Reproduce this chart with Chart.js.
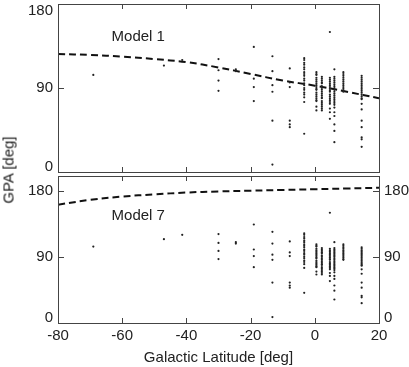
<!DOCTYPE html>
<html>
<head>
<meta charset="utf-8">
<script src="https://cdn.jsdelivr.net/npm/chart.js@4.4.1/dist/chart.umd.min.js"></script>
<style>
  body { margin: 0; background: #fff; }
  #wrap { position: relative; width: 409px; height: 367px; font-family: "Liberation Sans", Arial, sans-serif; }
  #topBox { position: absolute; left: 0; top: 0; }
  #bottomBox { position: absolute; left: 0; top: 172px; }
  #ytitle { position: absolute; left: 8px; top: 170px; transform: translate(-50%, -50%) rotate(-90deg);
            font-size: 15px; color: #222; white-space: nowrap; }
</style>
</head>
<body>
<div id="wrap">
  <div id="topBox"><canvas id="topChart" width="409" height="180"></canvas></div>
  <div id="bottomBox"><canvas id="bottomChart" width="409" height="195"></canvas></div>
  <div id="ytitle">GPA [deg]</div>
</div>
<script>
// observed polarization angles, grouped by galactic latitude column
const columnLat = [-69, -47, -41.3, -30, -24.6, -19, -13.2, -7.8, -3.3, 0.5, 2.2, 4.7, 6.1, 8.9, 14.6];
const columnGpa = [
  [104],
  [114],
  [120],
  [121, 109, 98, 87],
  [110, 108],
  [134, 100, 91, 76],
  [124, 108, 93, 86, 55, 8],
  [111, 96, 91, 55, 51, 48],
  [122, 120, 117, 115, 112, 110, 107, 105, 103, 100, 98, 95, 93, 90, 88, 85, 83, 80, 75, 41],
  [107, 105, 104, 101, 99, 97, 95, 93, 91, 89, 88, 85, 83, 81, 79, 77, 76, 70, 66],
  [102, 100, 98, 96, 95, 92, 90, 88, 86, 84, 82, 80, 79, 76, 74, 72, 70, 68, 66],
  [150, 101, 99, 97, 95, 93, 91, 89, 87, 86, 83, 81, 79, 77, 75, 73, 68, 64, 57],
  [110, 102, 100, 98, 96, 94, 92, 90, 88, 86, 84, 82, 80, 78, 76, 74, 72, 69, 64, 60, 51, 44, 32],
  [107, 105, 103, 101, 99, 97, 95, 93, 91, 89, 87, 86],
  [103, 101, 99, 97, 95, 93, 91, 89, 87, 85, 83, 81, 79, 78, 73, 67, 55, 48, 37, 35, 27]
];

// model curves
const curveLat = [-80, -70, -60, -50, -40, -30, -20, -10, 0, 10, 20];
const model1Gpa = [126.5, 125.4, 123.7, 121, 117.7, 112, 105, 98, 92.5, 86, 79];
const model7Gpa = [161, 167.5, 172, 175, 177.5, 179, 180, 181, 182, 183, 184];

const xTicks = [-80, -60, -40, -20, 0, 20];
const yTicks = [0, 90, 180];

const FONT = '"Liberation Sans", Arial, sans-serif';
const INK = '#222';

const observations = [];
columnLat.forEach((lat, i) => {
  columnGpa[i].forEach(g => observations.push({ x: lat, y: g }));
});

function curve(values) {
  return curveLat.map((lat, i) => ({ x: lat, y: values[i] }));
}

// frame with inward ticks, y tick labels and the model label
const framePlugin = {
  id: 'frame',
  afterDatasetsDraw(chart, args, opts) {
    const { ctx, chartArea: a, scales: { x, y } } = chart;
    const r = v => Math.round(v) + 0.5;
    ctx.save();
    ctx.strokeStyle = '#444';
    ctx.lineWidth = 1;
    ctx.strokeRect(r(a.left), r(a.top), Math.round(a.right) - Math.round(a.left), Math.round(a.bottom) - Math.round(a.top));
    ctx.beginPath();
    xTicks.forEach(v => {
      const px = r(x.getPixelForValue(v));
      ctx.moveTo(px, a.top); ctx.lineTo(px, a.top + 5);
      ctx.moveTo(px, a.bottom); ctx.lineTo(px, a.bottom - 5);
    });
    yTicks.forEach(v => {
      const py = r(y.getPixelForValue(v));
      ctx.moveTo(a.left, py); ctx.lineTo(a.left + 6, py);
      ctx.moveTo(a.right, py); ctx.lineTo(a.right - 6, py);
    });
    ctx.stroke();

    ctx.fillStyle = INK;
    ctx.font = '15px ' + FONT;
    ctx.textBaseline = 'middle';
    yTicks.forEach(v => {
      const py = Math.min(Math.max(y.getPixelForValue(v), a.top + 7), a.bottom - 5);
      ctx.textAlign = 'right';
      ctx.fillText(String(v), a.left - 5, py);
      if (opts.rightLabels) {
        ctx.textAlign = 'left';
        ctx.fillText(String(v), a.right + 5, py);
      }
    });
    ctx.textAlign = 'center';
    ctx.fillText(opts.label, x.getPixelForValue(opts.labelAt[0]), y.getPixelForValue(opts.labelAt[1]));
    ctx.restore();
  }
};

function makeChart(canvasId, modelValues, yMax, frameOpts, showXAxis, padding) {
  return new Chart(document.getElementById(canvasId), {
    type: 'scatter',
    data: {
      datasets: [
        {
          data: observations,
          pointRadius: 1.1,
          pointBorderWidth: 0,
          backgroundColor: INK
        },
        {
          data: curve(modelValues),
          showLine: true,
          pointRadius: 0,
          borderColor: '#111',
          borderWidth: 2,
          borderDash: [7, 4],
          tension: 0.4
        }
      ]
    },
    options: {
      responsive: false,
      animation: false,
      layout: { padding },
      plugins: {
        legend: { display: false },
        tooltip: { enabled: false },
        frame: frameOpts
      },
      scales: {
        x: {
          type: 'linear',
          min: -80,
          max: 20,
          display: showXAxis,
          afterFit: scale => { if (showXAxis) scale.height = 44; },
          grid: { display: false, drawTicks: false },
          border: { display: false },
          ticks: {
            stepSize: 20,
            padding: 4,
            maxRotation: 0,
            color: INK,
            font: { family: FONT, size: 15 }
          },
          title: {
            display: showXAxis,
            text: 'Galactic Latitude [deg]',
            color: INK,
            padding: 0,
            font: { family: FONT, size: 15 }
          }
        },
        y: {
          min: 0,
          max: yMax,
          display: false
        }
      }
    },
    plugins: [framePlugin]
  });
}

makeChart('topChart', model1Gpa, 180,
  { label: 'Model 1', labelAt: [-55, 145], rightLabels: false },
  false, { left: 58, right: 30, top: 1, bottom: 8 });

makeChart('bottomChart', model7Gpa, 200,
  { label: 'Model 7', labelAt: [-55, 146], rightLabels: true },
  true, { left: 58, right: 30, top: 0, bottom: 0 });
</script>
</body>
</html>
